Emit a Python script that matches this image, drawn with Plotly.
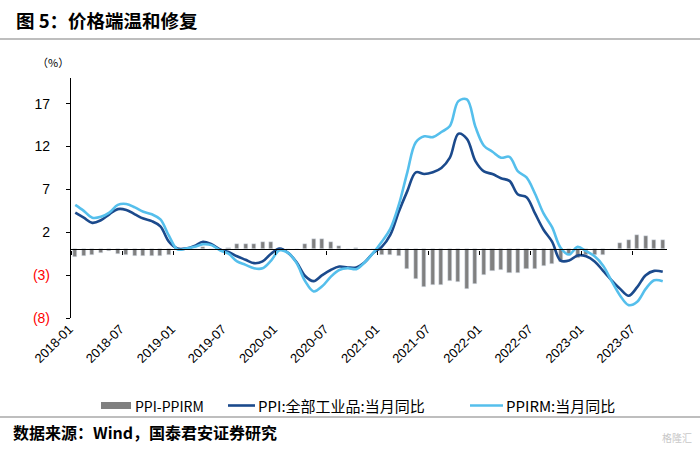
import plotly.graph_objects as go

# ---------------- data ----------------
months = [f"{y}-{m:02d}" for y in range(2018, 2024) for m in range(1, 13)][:70]

ppi = [
    4.3, 3.7, 3.1, 3.4, 4.1, 4.7, 4.6, 4.1, 3.6, 3.3, 2.7, 0.9,
    0.1, 0.1, 0.4, 0.9, 0.6, 0.0, -0.3, -0.8, -1.2, -1.6, -1.4, -0.5,
    0.1, -0.4, -1.5, -3.1, -3.7, -3.0, -2.4, -2.0, -2.1, -2.1, -1.5, -0.4,
    0.3, 1.7, 4.4, 6.8, 9.0, 8.8, 9.0, 9.5, 10.7, 13.5, 12.9, 10.3,
    9.1, 8.8, 8.3, 8.0, 6.4, 6.1, 4.2, 2.3, 0.9, -1.3, -1.3, -0.7,
    -0.8, -1.4, -2.5, -3.6, -4.6, -5.4, -4.4, -3.0, -2.5, -2.6,
]

ppirm = [
    5.2, 4.5, 3.7, 3.8, 4.3, 5.2, 5.3, 4.9, 4.4, 4.1, 3.5, 1.6,
    0.0, 0.1, 0.3, 0.6, 0.5, -0.1, -0.5, -1.4, -1.8, -2.2, -2.2, -1.3,
    -0.1, -0.4, -1.6, -3.7, -4.9, -4.3, -3.2, -2.4, -2.2, -2.3, -1.5, -0.4,
    0.9, 2.4, 5.2, 9.0, 12.5, 13.2, 13.1, 13.7, 14.4, 17.3, 17.5, 14.3,
    12.1, 11.4, 10.7, 10.8, 9.1, 8.4, 6.5, 4.2, 2.6, 0.2, -0.6, 0.3,
    -0.2, -0.8, -1.9, -3.7, -5.4, -6.5, -6.1, -4.6, -3.6, -3.7,
]

spread = [
    -0.9, -0.8, -0.6, -0.4, -0.2, -0.5, -0.7, -0.8, -0.8, -0.8, -0.8, -0.7,
    0.05, 0.0, 0.05, 0.3, 0.05, 0.05, 0.2, 0.6, 0.6, 0.6, 0.85, 0.85,
    0.15, 0.0, 0.05, 0.6, 1.2, 1.25, 0.85, 0.45, 0.1, 0.15, 0.05, 0.0,
    -0.6, -0.7, -0.8, -2.25, -3.5, -4.4, -4.1, -4.2, -3.7, -3.8, -4.6, -4.0,
    -3.0, -2.55, -2.45, -2.8, -2.75, -2.3, -2.3, -1.9, -1.7, -1.5, -0.65, -1.0,
    -0.6, -0.6, -0.6, 0.1, 0.8, 1.1, 1.7, 1.55, 1.1, 1.1,
]

ytick_vals = [-8, -3, 2, 7, 12, 17]
ytick_text = ["<span style='color:#FF0000'>(8)</span>", "<span style='color:#FF0000'>(3)</span>",
              "2", "7", "12", "17"]

series_names = ["PPI-PPIRM", "PPI:全部工业品:当月同比", "PPIRM:当月同比"]
title_text = "图 5：价格端温和修复"
source_text = "数据来源：Wind，国泰君安证券研究"

# ---------------- styling / layout helpers ----------------
W, H = 700, 449
L, R, T, B = 71, 33, 78, 131
PW, PH = W - L - R, H - T - B


def px_x(p):
    return (p - L) / PW


def px_y(p):
    return (H - B - p) / PH


BAR_C = "#808080"
DARK_C = "#1B4A8C"
LIGHT_C = "#55BFEC"
CJK = "Noto Sans CJK SC"
LAT = "Liberation Sans"

idx = list(range(len(months)))

fig = go.Figure()
fig.add_trace(go.Bar(x=idx, y=spread, marker_color=BAR_C, width=0.48,
                     name=series_names[0], showlegend=False))
fig.add_trace(go.Scatter(x=idx, y=ppi, mode="lines", line=dict(color=DARK_C, width=2.6, shape="spline"),
                         name=series_names[1], showlegend=False))
fig.add_trace(go.Scatter(x=idx, y=ppirm, mode="lines", line=dict(color=LIGHT_C, width=2.6, shape="spline"),
                         name=series_names[2], showlegend=False))
# invisible trace so the label axis exists
fig.add_trace(go.Scatter(x=[0], y=[0], xaxis="x2", mode="markers", marker=dict(opacity=0),
                         hoverinfo="skip", showlegend=False))

xr = [-0.5, len(months) - 0.5]
fig.update_layout(
    width=W, height=H,
    margin=dict(l=L, r=R, t=T, b=B),
    paper_bgcolor="white", plot_bgcolor="white",
    bargap=0,
    xaxis=dict(range=xr, anchor="free", position=8 / 28, showline=True, linecolor="black", linewidth=1.3,
               ticks="outside", ticklen=4, tickcolor="black", tickwidth=1,
               tickvals=[k - 0.5 for k in range(0, len(months), 6)],
               showticklabels=False, showgrid=False, zeroline=False),
    xaxis2=dict(range=xr, overlaying="x", anchor="y", side="bottom", showline=False, ticks="",
                tickvals=idx[::6], ticktext=months[::6], tickangle=-45,
                tickfont=dict(family=LAT, size=13, color="black"),
                ticklabelshift=-6, ticklabelstandoff=0,
                showgrid=False, zeroline=False),
    yaxis=dict(range=[-8, 20], showline=True, linecolor="black", linewidth=1.3,
               ticks="outside", ticklen=4, tickcolor="black",
               tickvals=ytick_vals, ticktext=ytick_text,
               tickfont=dict(family=LAT, size=14, color="black"),
               ticklabelstandoff=13,
               showgrid=False, zeroline=False),
)

shapes = [
    dict(type="line", xref="paper", yref="paper", x0=px_x(0), x1=px_x(700), y0=px_y(39), y1=px_y(39),
         line=dict(color="#7f7f7f", width=1.2)),
    dict(type="line", xref="paper", yref="paper", x0=px_x(0), x1=px_x(700), y0=px_y(417), y1=px_y(417),
         line=dict(color="#7f7f7f", width=1.2)),
    # legend swatches
    dict(type="rect", xref="paper", yref="paper", x0=px_x(101), x1=px_x(131), y0=px_y(402), y1=px_y(409),
         fillcolor=BAR_C, line=dict(width=0)),
    dict(type="line", xref="paper", yref="paper", x0=px_x(228), x1=px_x(255), y0=px_y(405.5), y1=px_y(405.5),
         line=dict(color=DARK_C, width=2.6)),
    dict(type="line", xref="paper", yref="paper", x0=px_x(470), x1=px_x(503), y0=px_y(405.5), y1=px_y(405.5),
         line=dict(color=LIGHT_C, width=2.6)),
]

annotations = [
    dict(text="<b>" + title_text + "</b>", xref="paper", yref="paper", x=px_x(14), y=px_y(20),
         xanchor="left", yanchor="middle", showarrow=False, font=dict(family=CJK, size=18.5, color="black")),
    dict(text="（%）", xref="paper", yref="paper", x=px_x(53), y=px_y(62),
         xanchor="center", yanchor="middle", showarrow=False, font=dict(family=CJK, size=11, color="black")),
    dict(text=series_names[0], xref="paper", yref="paper", x=px_x(133), y=px_y(405.5),
         xanchor="left", yanchor="middle", showarrow=False, font=dict(family=CJK, size=14, color="black")),
    dict(text=series_names[1], xref="paper", yref="paper", x=px_x(256), y=px_y(405.5),
         xanchor="left", yanchor="middle", showarrow=False, font=dict(family=CJK, size=15, color="black")),
    dict(text=series_names[2], xref="paper", yref="paper", x=px_x(504), y=px_y(405.5),
         xanchor="left", yanchor="middle", showarrow=False, font=dict(family=CJK, size=15, color="black")),
    dict(text="<b>" + source_text + "</b>", xref="paper", yref="paper", x=px_x(11), y=px_y(432),
         xanchor="left", yanchor="middle", showarrow=False, font=dict(family=CJK, size=16, color="black")),
    dict(text="格隆汇", xref="paper", yref="paper", x=px_x(694), y=px_y(437),
         xanchor="right", yanchor="middle", showarrow=False, font=dict(family=CJK, size=10, color="#c8c8c8")),
]

fig.update_layout(shapes=shapes, annotations=annotations)

fig.write_html("out.html", config={"displayModeBar": False},
               post_script="document.body.style.margin='0';")
